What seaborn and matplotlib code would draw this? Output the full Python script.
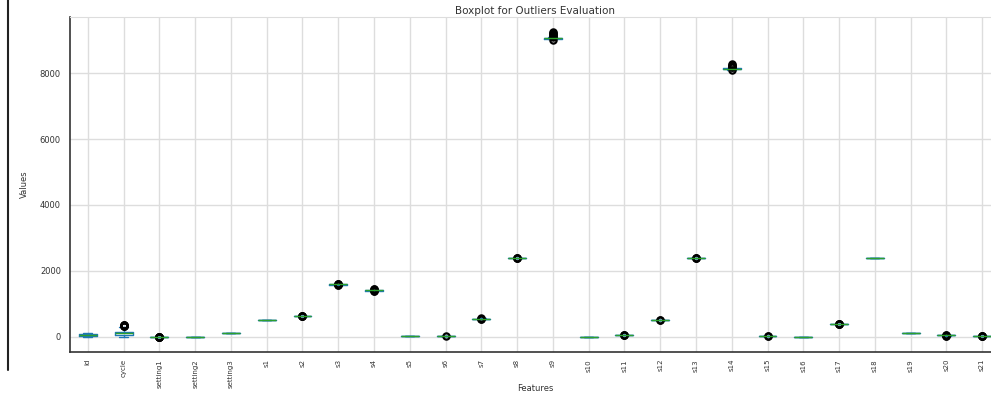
import matplotlib.pyplot as plt
from matplotlib.lines import Line2D
import seaborn as sns

# box summary per feature
features = ["id", "cycle", "setting1", "setting2", "setting3",
            "s1", "s2", "s3", "s4", "s5", "s6", "s7", "s8", "s9", "s10",
            "s11", "s12", "s13", "s14", "s15", "s16", "s17", "s18", "s19", "s20", "s21"]
whislo = [1, 1, -0.0059, -0.0006, 100,
          518.67, 641.33, 1574.1, 1386.8, 14.62, 21.61, 551.0, 2387.9, 9030.0, 1.3,
          46.85, 519.5, 2387.88, 8110.0, 8.34, 0.03, 389, 2388, 100, 38.3, 23.0]
q1 = [26, 52, -0.0015, -0.0002, 100,
      518.67, 642.33, 1586.26, 1402.36, 14.62, 21.61, 552.81, 2388.02, 9053.1, 1.3,
      47.35, 520.96, 2388.02, 8133.25, 8.4149, 0.03, 392, 2388, 100, 38.7, 23.22]
med = [52, 104, 0.0, 0.0, 100,
       518.67, 642.64, 1590.1, 1408.04, 14.62, 21.61, 553.44, 2388.09, 9060.66, 1.3,
       47.51, 521.48, 2388.09, 8140.54, 8.4389, 0.03, 393, 2388, 100, 38.83, 23.30]
q3 = [77, 156, 0.0015, 0.0003, 100,
      518.67, 643.0, 1594.38, 1412.79, 14.62, 21.61, 554.01, 2388.14, 9069.42, 1.3,
      47.7, 521.95, 2388.14, 8148.11, 8.4656, 0.03, 394, 2388, 100, 38.95, 23.37]
whishi = [100, 311, 0.0059, 0.0006, 100,
          518.67, 644.0, 1606.5, 1428.4, 14.62, 21.61, 555.8, 2388.32, 9093.0, 1.3,
          48.2, 523.4, 2388.32, 8170.0, 8.54, 0.03, 397, 2388, 100, 39.3, 23.55]
outliers = [
    [],
    [315, 325, 335, 345, 355, 362],
    [-0.0087, -0.0075, -0.0065, 0.0065, 0.0075, 0.0087],
    [],
    [],
    [],
    [641.21, 641.25, 644.2, 644.53],
    [1571.0, 1572.5, 1608.0, 1612.0, 1616.9],
    [1382.25, 1384.0, 1430.0, 1435.0, 1441.49],
    [],
    [21.60],
    [549.85, 550.5, 556.06],
    [2388.35, 2388.45, 2388.56],
    [9021.73, 9095, 9120, 9150, 9180, 9210, 9244.59],
    [],
    [48.25, 48.4, 48.53],
    [518.69, 519.0],
    [2388.35, 2388.45, 2388.56],
    [8099.94, 8175, 8200, 8230, 8260, 8293.72],
    [8.3249, 8.5848],
    [],
    [388, 398, 399, 400],
    [],
    [],
    [38.14, 38.2, 39.35, 39.43],
    [22.89, 22.95, 23.6, 23.62],
]

sns.set_style("whitegrid", {"grid.color": "#dddddd", "axes.edgecolor": "#dddddd"})
plt.rcParams["font.family"] = ["DejaVu Sans"]

fig = plt.figure(figsize=(9.91, 3.94), dpi=100)
ax = fig.add_axes([0.0706, 0.1066, 0.9385, 0.8503])

stats = []
for i, name in enumerate(features):
    stats.append(dict(label=name, whislo=whislo[i], q1=q1[i], med=med[i],
                      q3=q3[i], whishi=whishi[i], fliers=outliers[i]))

blue = "#1f77b4"
ax.bxp(stats, widths=0.5,
       boxprops=dict(color=blue, linewidth=1),
       whiskerprops=dict(color=blue, linewidth=1),
       capprops=dict(color=blue, linewidth=1),
       medianprops=dict(color="#2ca02c", linewidth=1),
       flierprops=dict(marker="o", markerfacecolor="none", markeredgewidth=1.6,
                       markeredgecolor="black", markersize=4.5))

ax.grid(True, color="#dddddd", linewidth=1)
ax.set_axisbelow(True)
for side in ["left", "bottom"]:
    ax.spines[side].set_color("#333333")
    ax.spines[side].set_linewidth(1.2)
ax.spines["top"].set_color("#dddddd")
ax.spines["right"].set_visible(False)

ax.tick_params(axis="both", length=3, width=0.8, color="#333333",
               labelsize=6, labelcolor="#333333")
ax.tick_params(axis="x", labelrotation=90, labelsize=5, pad=2)
ax.set_title("Boxplot for Outliers Evaluation", fontsize=7.5, color="#333333", pad=2)
ax.set_xlabel("Features", fontsize=6, color="#333333")
ax.xaxis.set_label_coords(0.5, -0.095)
ax.set_ylabel("Values", fontsize=6, color="#333333", labelpad=8)

# dark frame edge on the left of the screenshot
fig.add_artist(Line2D([8 / 991, 8 / 991], [0.06, 1.0], color="#222222", linewidth=1.5))

fig.savefig("out.png", dpi=100)
